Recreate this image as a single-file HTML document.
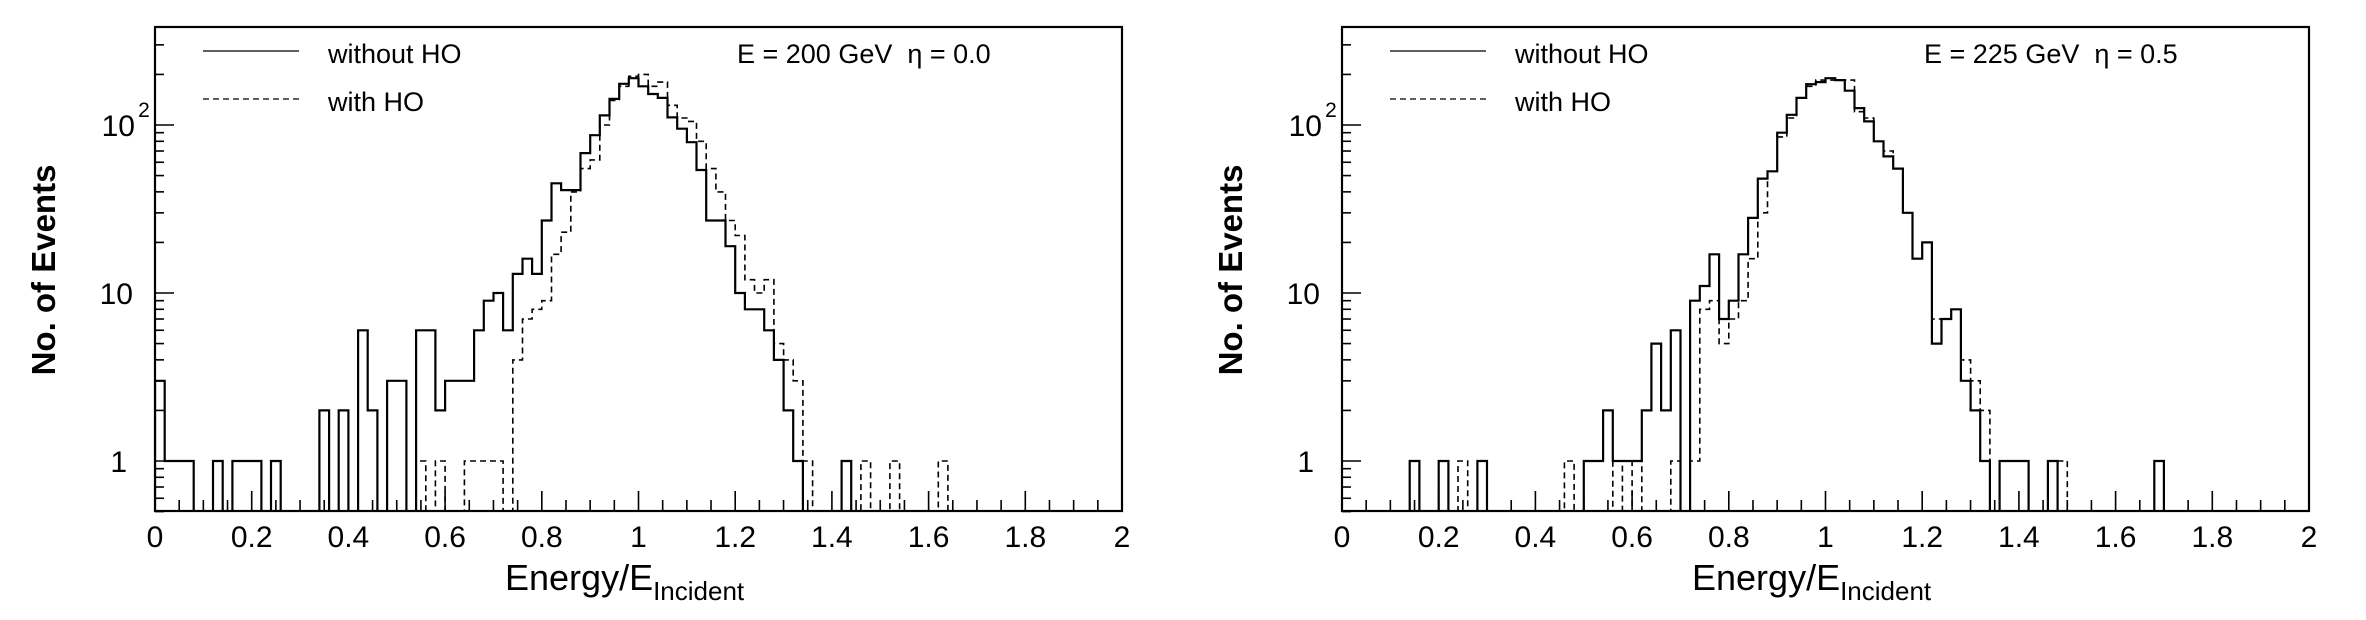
<!DOCTYPE html>
<html><head><meta charset="utf-8">
<style>
html,body{margin:0;padding:0;background:#fff;}
svg{display:block;font-family:"Liberation Sans",Arial,sans-serif;}
.pre{white-space:pre;}
</style></head>
<body>
<svg id="chart" width="2366" height="620" viewBox="0 0 2366 620" xmlns="http://www.w3.org/2000/svg"></svg>
<script>
// ---- data: bin low edges (x) and counts ----
const p1SolidBins   = [0,0.02,0.04,0.06,0.12,0.16,0.18,0.20,0.24,0.34,0.38,0.42,0.44,0.48,0.50,0.54,0.56,0.58,0.60,0.62,0.64,0.66,0.68,0.70,0.72,0.74,0.76,0.78,0.80,0.82,0.84,0.86,0.88,0.90,0.92,0.94,0.96,0.98,1.00,1.02,1.04,1.06,1.08,1.10,1.12,1.14,1.16,1.18,1.20,1.22,1.24,1.26,1.28,1.30,1.32,1.42];
const p1SolidCounts = [3,1,1,1,1,1,1,1,1,2,2,6,2,3,3,6,6,2,3,3,3,6,9,10,6,13,16,13,27,45,41,41,68,87,114,143,176,190,170,153,145,111,95,79,54,27,27,19,10,8,8,6,4,2,1,1];
const p1DashBins    = [0.54,0.58,0.64,0.66,0.68,0.70,0.74,0.76,0.78,0.80,0.82,0.84,0.86,0.88,0.90,0.92,0.94,0.96,0.98,1.00,1.02,1.04,1.06,1.08,1.10,1.12,1.14,1.16,1.18,1.20,1.22,1.24,1.26,1.28,1.30,1.32,1.34,1.46,1.52,1.62];
const p1DashCounts  = [1,1,1,1,1,1,4,7,8,9,17,23,40,55,62,100,140,170,195,200,170,180,131,110,105,80,55,40,27,22,12,10,12,5,4,3,1,1,1,1];
const p2SolidBins   = [0.14,0.20,0.28,0.50,0.52,0.54,0.56,0.58,0.60,0.62,0.64,0.66,0.68,0.72,0.74,0.76,0.78,0.80,0.82,0.84,0.86,0.88,0.90,0.92,0.94,0.96,0.98,1.00,1.02,1.04,1.06,1.08,1.10,1.12,1.14,1.16,1.18,1.20,1.22,1.24,1.26,1.28,1.30,1.32,1.36,1.38,1.40,1.46,1.68];
const p2SolidCounts = [1,1,1,1,1,2,1,1,1,2,5,2,6,9,11,17,7,9,17,28,48,53,90,115,145,175,180,190,185,160,126,105,80,65,55,30,16,20,5,7,8,3,2,1,1,1,1,1,1];
const p2DashBins    = [0.24,0.46,0.56,0.60,0.68,0.72,0.74,0.76,0.78,0.80,0.82,0.84,0.86,0.88,0.90,0.92,0.94,0.96,0.98,1.00,1.02,1.04,1.06,1.08,1.10,1.12,1.14,1.16,1.18,1.20,1.22,1.24,1.26,1.28,1.30,1.32,1.48];
const p2DashCounts  = [1,1,1,1,1,1,8,9,5,7,9,16,30,53,85,110,145,170,185,185,185,185,120,110,80,70,55,30,16,20,7,7,8,4,3,2,1];
const xTicks = [0,0.2,0.4,0.6,0.8,1,1.2,1.4,1.6,1.8,2];
const xTickLabels = ["0","0.2","0.4","0.6","0.8","1","1.2","1.4","1.6","1.8","2"];
const panelTitles = ["E = 200 GeV  \u03b7 = 0.0","E = 225 GeV  \u03b7 = 0.5"];

const NS="http://www.w3.org/2000/svg";
const svg=document.getElementById('chart');
const BIN=0.02, NB=100;
const TOP=27, BOT=511, DEC=168; // px per decade, y=1 at 461
function mk(tag,attrs,parent){const e=document.createElementNS(NS,tag);for(const k in attrs)e.setAttribute(k,attrs[k]);(parent||svg).appendChild(e);return e;}

function drawPanel(idx,L,R,bins,counts,dbins,dcounts,title){
  const g=mk('g',{});
  
  
  const xs=v=>L+(v/2)*(R-L);
  const ys=v=>v<=0?BOT+5:461-Math.log10(v)*DEC;
  const cid='clip'+idx;
  const cp=mk('clipPath',{id:cid},g); mk('rect',{x:L,y:TOP,width:R-L,height:BOT-TOP},cp);
  function hist(b,c,name,dash){
    const full=new Array(NB).fill(0);
    b.forEach((x,i)=>{full[Math.round(x/BIN)]=c[i];});
    let d='M'+xs(0)+','+(BOT+5);
    for(let i=0;i<NB;i++){d+=' V'+ys(full[i]).toFixed(1)+' H'+xs((i+1)*BIN).toFixed(1);}
    d+=' V'+(BOT+5);
    const p=mk('path',{d:d,fill:'none',stroke:'#000','stroke-width':dash?1.6:2.2,'stroke-dasharray':dash?'6,4':'none','clip-path':'url(#'+cid+')'},g);
    
    
  }
  hist(dbins,dcounts,'histogram-with-ho',true);
  hist(bins,counts,'histogram-without-ho',false);
  const fr=mk('rect',{x:L,y:TOP,width:R-L,height:BOT-TOP,fill:'none',stroke:'#000','stroke-width':2.2},g);
  
  
  const xa=mk('g',{},g);
  
  
  for(let k=0;k<=40;k++){const v=k*0.05;const major=k%4===0;
    mk('line',{x1:xs(v),x2:xs(v),y1:BOT,y2:BOT-(major?20:11),stroke:'#000','stroke-width':1.6},xa);}
  xTicks.forEach((v,i)=>{const t=mk('text',{x:xs(v),y:547,'font-size':30,'text-anchor':'middle'},xa);t.textContent=xTickLabels[i];
    
    });
  const ya=mk('g',{},g);
  
  
  [0.5,0.6,0.7,0.8,0.9,1,2,3,4,5,6,7,8,9,10,20,30,40,50,60,70,80,90,100,200,300].forEach(v=>{
    const major=(v===1||v===10||v===100);
    mk('line',{x1:L,x2:L+(major?19:9),y1:ys(v),y2:ys(v),stroke:'#000','stroke-width':1.6},ya);});
  let t=mk('text',{x:L-28,y:ys(1)+11,'font-size':30,'text-anchor':'end'},ya);t.textContent='1';
  t=mk('text',{x:L-22,y:ys(10)+11,'font-size':30,'text-anchor':'end'},ya);t.textContent='10';
  t=mk('text',{x:L-20,y:ys(100)+11,'font-size':30,'text-anchor':'end'},ya);t.textContent='10';
  t=mk('text',{x:L-11,y:ys(100)-8,'font-size':21,'text-anchor':'middle'},ya);t.textContent='2';
  t=mk('text',{x:0,y:0,'font-size':33,'font-weight':'bold','text-anchor':'middle',transform:'translate('+(L-100)+',270) rotate(-90)'},g);t.textContent='No. of Events';
  
  
  t=mk('text',{x:L+350,y:590,'font-size':36},g);
  
  
  const s1=mk('tspan',{},t);s1.textContent='Energy/E';
  const s2=mk('tspan',{'font-size':26,dy:10},t);s2.textContent='Incident';
  const lg=mk('g',{},g);
  
  
  mk('line',{x1:L+48,x2:L+144,y1:51,y2:51,stroke:'#000','stroke-width':1.2},lg);
  mk('line',{x1:L+48,x2:L+144,y1:99,y2:99,stroke:'#000','stroke-width':1.2,'stroke-dasharray':'6,4'},lg);
  t=mk('text',{x:L+173,y:63,'font-size':27},lg);t.textContent='without HO';
  t=mk('text',{x:L+173,y:111,'font-size':27},lg);t.textContent='with HO';
  t=mk('text',{x:L+582,y:63,'font-size':27,'class':'pre'},g);t.textContent=title;
  
  
}
drawPanel(0,155,1122,p1SolidBins,p1SolidCounts,p1DashBins,p1DashCounts,panelTitles[0]);
drawPanel(1,1342,2309,p2SolidBins,p2SolidCounts,p2DashBins,p2DashCounts,panelTitles[1]);
</script>
</body></html>
